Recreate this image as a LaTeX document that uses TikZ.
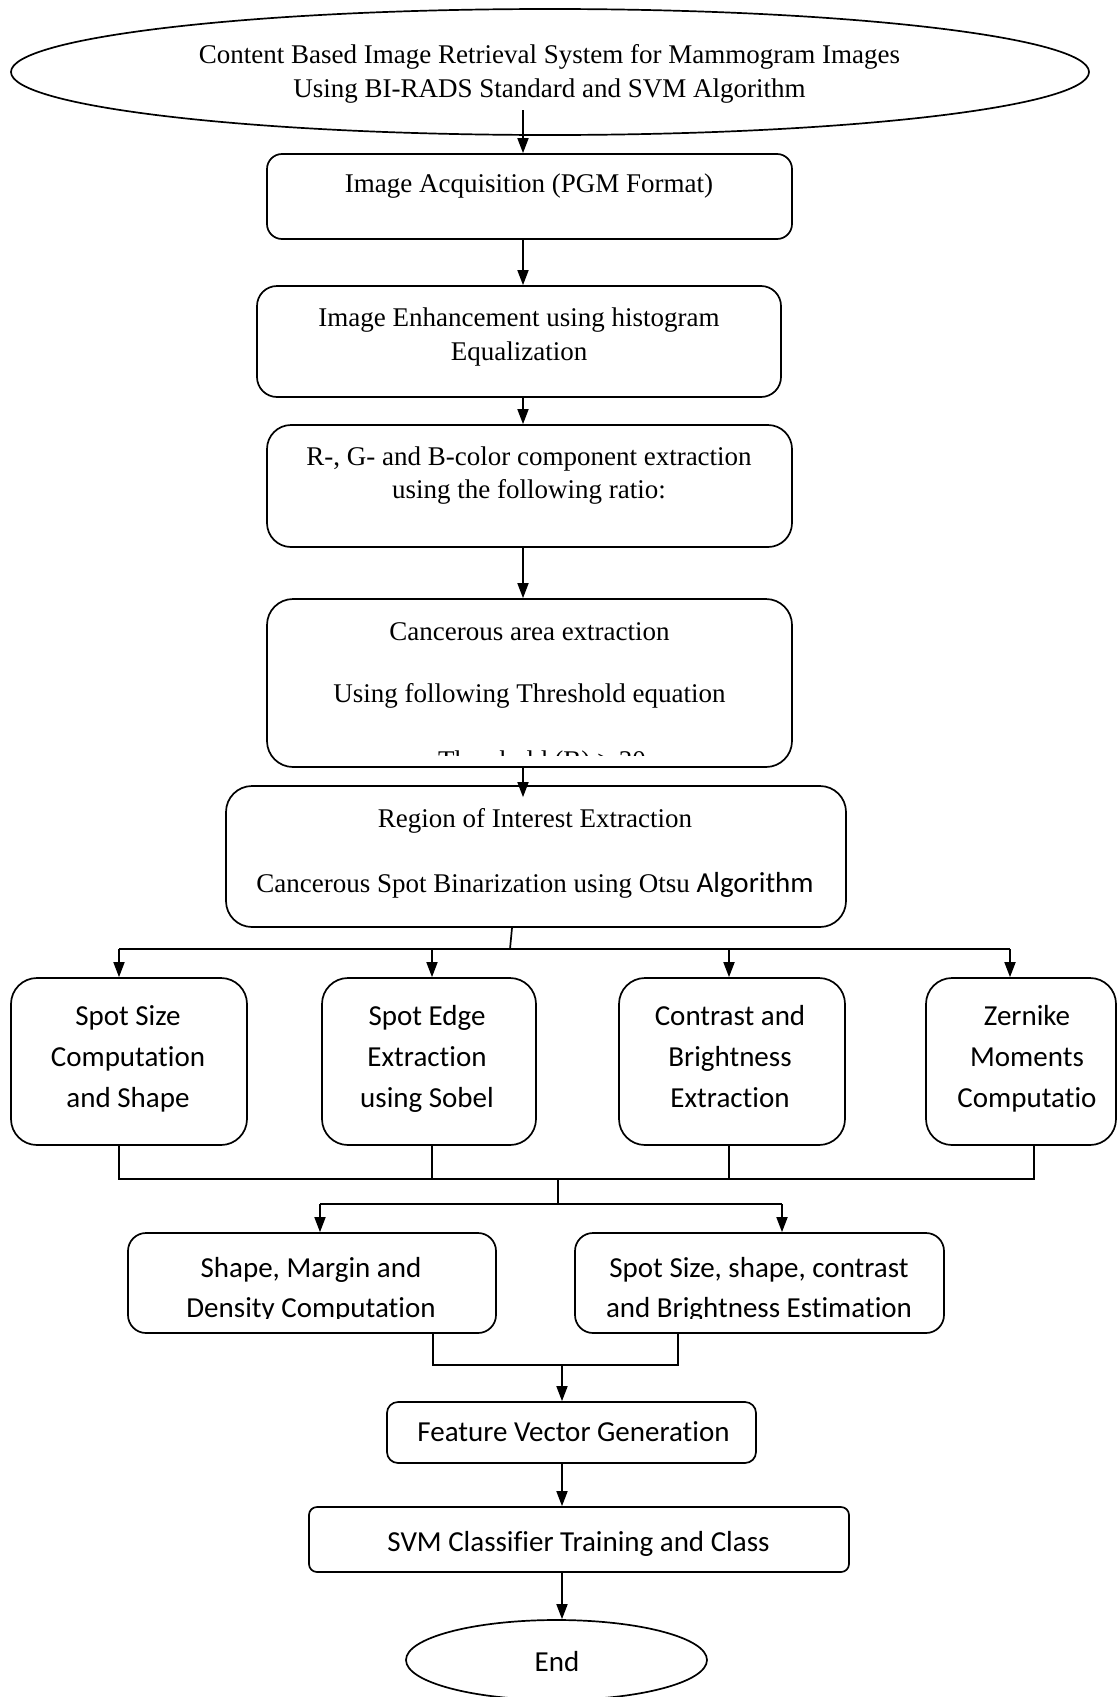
\documentclass[tikz,border=0pt]{standalone}
\usepackage{fontspec}
\setmainfont{Liberation Serif}
\newfontfamily\sansf[Ligatures=NoCommon,RawFeature={-liga,-dlig,-clig}]{Carlito}
\usetikzlibrary{arrows.meta,shapes.geometric,calc}
\begin{document}
\begin{tikzpicture}[x=1pt,y=-1pt,
  box/.style={draw, line width=1.7pt, inner sep=0pt, rounded corners=#1},
  box/.default=20pt,
  oval/.style={draw, line width=1.7pt, ellipse, inner sep=0pt},
  serif/.style={font=\fontsize{27}{33}\selectfont, inner sep=0pt, anchor=base},
  sans/.style={font=\sansf\fontsize{29}{41}\selectfont, inner sep=0pt, anchor=base},
  ln/.style={line width=1.7pt},
  arr/.style={ln, -{Triangle[length=15pt,width=11pt]}}]
\useasboundingbox (0,0) rectangle (1117,1697);

% ---- shapes ----
\node[oval, minimum width=1078pt, minimum height=126pt] (ell) at (550,72) {};
\node[box=15pt, minimum width=525pt, minimum height=85pt] (b1) at (529.5,196.5) {};
\node[box=20pt, minimum width=524pt, minimum height=111pt] (b2) at (519,341.5) {};
\node[box=24pt, minimum width=525pt, minimum height=122pt] (b3) at (529.5,486) {};
\node[box=26pt, minimum width=525pt, minimum height=168pt] (b4) at (529.5,683) {};
\node[box=26pt, minimum width=620pt, minimum height=141pt] (b5) at (536,856.5) {};
\node[box=26pt, minimum width=236pt, minimum height=167pt] (A) at (129,1061.5) {};
\node[box=26pt, minimum width=214pt, minimum height=167pt] (B) at (429,1061.5) {};
\node[box=26pt, minimum width=226pt, minimum height=167pt] (C) at (732,1061.5) {};
\node[box=26pt, minimum width=190pt, minimum height=167pt] (D) at (1021,1061.5) {};
\node[box=18pt, minimum width=368pt, minimum height=100pt] (E) at (312,1283) {};
\node[box=18pt, minimum width=369pt, minimum height=100pt] (F) at (759.5,1283) {};
\node[box=11pt, minimum width=369pt, minimum height=61pt] (G) at (571.5,1432.5) {};
\node[box=8pt, minimum width=540pt, minimum height=65pt] (H) at (579,1539.5) {};
\node[oval, minimum width=301pt, minimum height=80pt] (endn) at (556.5,1660) {};

% ---- texts ----
\node[serif] (t0a) at (549.5,63) {Content Based Image Retrieval System for Mammogram Images};
\node[serif] (t0b) at (549.5,97) {Using BI-RADS Standard and SVM Algorithm};
\node[serif] (t1) at (529,192) {Image Acquisition (PGM Format)};
\node[serif] (t2a) at (519,326) {Image Enhancement using histogram};
\node[serif] (t2b) at (519,360) {Equalization};
\node[serif] (t3a) at (529,465) {R-, G- and B-color component extraction};
\node[serif] (t3b) at (529,498) {using the following ratio:};
\node[serif] (t4a) at (529.5,640) {Cancerous area extraction};
\node[serif] (t4b) at (529.5,702) {Using following Threshold equation};
\begin{scope}
  \clip (267,600) rectangle (792,755);
  \node[serif] (t4c) at (542,769) {Threshold (B) > 30};
\end{scope}
\node[serif] (t5a) at (535,827) {Region of Interest Extraction};
\node[serif] (t5b) at (535,892) {Cancerous Spot Binarization using Otsu {\sansf\fontsize{29}{41}\selectfont Algorithm}};

\node[sans] (tAa) at (128,1025) {Spot Size};
\node[sans] (tAb) at (128,1066) {Computation};
\node[sans] (tAc) at (128,1107) {and Shape};
\node[sans] (tBa) at (427,1025) {Spot Edge};
\node[sans] (tBb) at (427,1066) {Extraction};
\node[sans] (tBc) at (427,1107) {using Sobel};
\node[sans] (tCa) at (730,1025) {Contrast and};
\node[sans] (tCb) at (730,1066) {Brightness};
\node[sans] (tCc) at (730,1107) {Extraction};
\node[sans] (tDa) at (1027,1025) {Zernike};
\node[sans] (tDb) at (1027,1066) {Moments};
\node[sans] (tDc) at (1027,1107) {Computatio};

\node[sans] (tEa) at (311,1277) {Shape, Margin and};
\node[sans] (tFa) at (759,1277) {Spot Size, shape, contrast};
\begin{scope}
  \clip (128,1240) rectangle (944,1318);
  \node[sans] (tEb) at (311,1317) {Density Computation};
  \node[sans] (tFb) at (759,1317) {and Brightness Estimation};
\end{scope}
\node[sans] (tG) at (573.5,1441) {Feature Vector Generation};
\node[sans] (tH) at (578.5,1551) {SVM Classifier Training and Class};
\node[sans] (tEnd) at (557,1671) {End};

% ---- connectors ----
\coordinate (ax) at (523,0);
\coordinate (ellout) at (523,110);
\draw[arr] (ellout) -- (b1.north -| ax);
\draw[arr] (b1.south -| ax) -- (b2.north -| ax);
\draw[arr] (b2.south -| ax) -- (b3.north -| ax);
\draw[arr] (b3.south -| ax) -- (b4.north -| ax);
\draw[arr] (b4.south -| ax) -- ($(b5.north -| ax)+(0,12)$);

\coordinate (s0) at (512,0);
\coordinate (s1) at (510,949);
\coordinate (hA) at (119,949);
\coordinate (hB) at (432,949);
\coordinate (hC) at (729,949);
\coordinate (hD) at (1010,949);
\draw[ln] (b5.south -| s0) -- (s1);
\draw[ln] (hA) -- (hD);
\draw[arr] (hA) -- (A.north -| hA);
\draw[arr] (hB) -- (B.north -| hB);
\draw[arr] (hC) -- (C.north -| hC);
\draw[arr] (hD) -- (D.north -| hD);

\coordinate (lA) at (119,1179);
\coordinate (lB) at (432,1179);
\coordinate (lC) at (729,1179);
\coordinate (lD) at (1034,1179);
\coordinate (m1) at (558,1179);
\coordinate (m2) at (558,1204);
\coordinate (hE) at (320,1204);
\coordinate (hF) at (782,1204);
\draw[ln] (A.south -| lA) -- (lA) -- (lD) -- (D.south -| lD);
\draw[ln] (B.south -| lB) -- (lB);
\draw[ln] (C.south -| lC) -- (lC);
\draw[ln] (m1) -- (m2);
\draw[ln] (hE) -- (hF);
\draw[arr] (hE) -- (E.north -| hE);
\draw[arr] (hF) -- (F.north -| hF);

\coordinate (jE) at (433,1365);
\coordinate (jF) at (678,1365);
\coordinate (jm) at (562,1365);
\draw[ln] (E.south -| jE) -- (jE) -- (jF) -- (F.south -| jF);
\draw[arr] (jm) -- (G.north -| jm);
\draw[arr] (G.south -| jm) -- (H.north -| jm);
\draw[arr] (H.south -| jm) -- (endn.north -| jm);
\end{tikzpicture}
\end{document}
